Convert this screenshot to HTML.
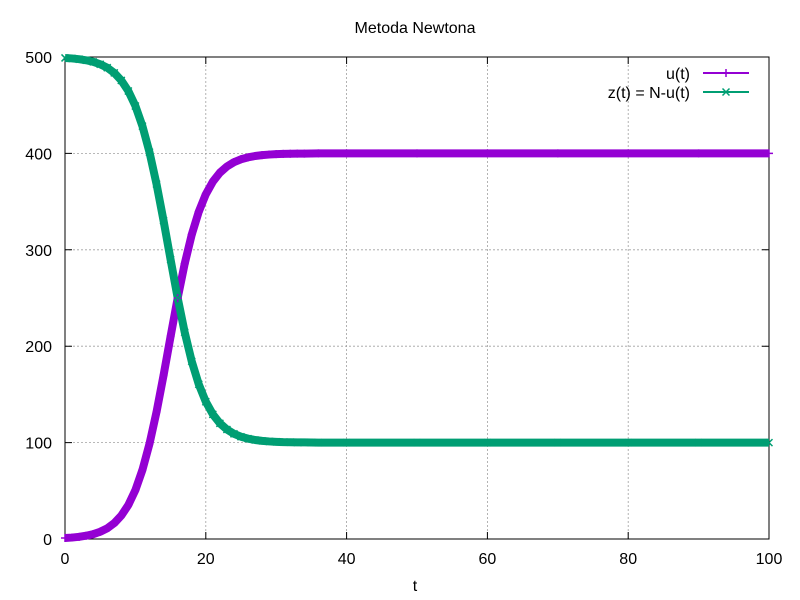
<!DOCTYPE html>
<html><head><meta charset="utf-8"><style>
html,body{margin:0;padding:0;background:#fff;}
svg{display:block;font-family:"Liberation Sans",sans-serif;}
</style></head><body>
<svg id="chart" width="800" height="600" xmlns="http://www.w3.org/2000/svg">
<rect width="800" height="600" fill="#fff"/>
<text x="415" y="33" font-size="16" text-anchor="middle">Metoda Newtona</text>
<text x="415" y="591" font-size="16" text-anchor="middle">t</text>
<g id="grid"></g>
<g id="axes"></g>
<g id="series"></g>
<g id="legend"></g>
</svg>
<script>
const tValues=[0,1,2,3,4,5,6,7,8,9,10,11,12,13,14,15,16,17,18,19,20,21,22,23,24,25,26,27,28,29,30,31,32,33,34,35,36,40,50,60,70,80,90,100];
const uValues=[1.0,1.5,2.25,3.4,5.0,7.5,11.1,16.5,24.3,35.3,50.8,71.7,98.7,131.8,169.8,210.2,249.7,285.5,315.7,339.5,357.6,370.7,380,386.4,390.9,393.9,395.9,397.3,398.2,398.8,399.2,399.5,399.6,399.8,399.8,399.9,400,400,400,400,400,400,400,400];
const N=500;
const xTicks=[0,20,40,60,80,100];
const yTicks=[0,100,200,300,400,500];
const X0=65,X1=769,Y0=539,Y1=57;
const xs=t=>X0+(t-0)/(100-0)*(X1-X0);
const ys=v=>Y0-(v-0)/(500-0)*(Y0-Y1);
const NS="http://www.w3.org/2000/svg";
function mk(tag,attrs,parent){const e=document.createElementNS(NS,tag);for(const k in attrs)e.setAttribute(k,attrs[k]);parent.appendChild(e);return e;}
const grid=document.getElementById('grid'),axes=document.getElementById('axes'),series=document.getElementById('series'),legend=document.getElementById('legend');
xTicks.forEach(t=>{
  const x=xs(t);
  if(t>0&&t<100){const g=mk('line',{x1:x,x2:x,y1:Y1,y2:Y0,stroke:'#a0a0a0','stroke-width':0.8,'stroke-dasharray':'2,2'},grid);
  
  }
  const tk=mk('path',{d:`M${x},${Y0}v-7M${x},${Y1}v7`,stroke:'#000','stroke-width':1},axes);
  
  
  const lb=mk('text',{x:x,y:564,'font-size':16,'text-anchor':'middle'},axes);lb.textContent=t;
  
  
});
yTicks.forEach(v=>{
  const y=ys(v);
  if(v>0&&v<500){const g=mk('line',{x1:X0,x2:X1,y1:y,y2:y,stroke:'#a0a0a0','stroke-width':0.8,'stroke-dasharray':'2,2'},grid);
  
  }
  const tk=mk('path',{d:`M${X0},${y}h7M${X1},${y}h-7`,stroke:'#000','stroke-width':1},axes);
  
  
  const lb=mk('text',{x:52,y:y+6,'font-size':16,'text-anchor':'end'},axes);lb.textContent=v;
  
  
});
const frame=mk('rect',{x:X0,y:Y1,width:X1-X0,height:Y0-Y1,fill:'none',stroke:'#000','stroke-width':1},axes);


function plus(x,y,c,p){return mk('path',{d:`M${x-4},${y}h8M${x},${y-4}v8`,stroke:c,'stroke-width':1.5},p);}
function cross(x,y,c,p){return mk('path',{d:`M${x-3.5},${y-3.5}l7,7M${x-3.5},${y+3.5}l7,-7`,stroke:c,'stroke-width':1.5},p);}
const cu='#9400d3',cz='#009e73';
const uPts=tValues.map((t,i)=>xs(t)+','+ys(uValues[i])).join(' ');
const zPts=tValues.map((t,i)=>xs(t)+','+ys(N-uValues[i])).join(' ');
const lu=mk('polyline',{points:uPts,fill:'none',stroke:cu,'stroke-width':8,'stroke-linejoin':'round'},series);


const lz=mk('polyline',{points:zPts,fill:'none',stroke:cz,'stroke-width':8,'stroke-linejoin':'round'},series);


tValues.forEach((t,i)=>{
  const a=plus(xs(t),ys(uValues[i]),cu,series);
  
  
  const b=cross(xs(t),ys(N-uValues[i]),cz,series);
  
  
});
const l1=mk('text',{x:690,y:79,'font-size':16,'text-anchor':'end'},legend);l1.textContent='u(t)';


const s1=mk('line',{x1:703,x2:749,y1:73,y2:73,stroke:cu,'stroke-width':2},legend);


plus(726,73,cu,legend);
const l2=mk('text',{x:690,y:98,'font-size':16,'text-anchor':'end'},legend);l2.textContent='z(t) = N-u(t)';


const s2=mk('line',{x1:703,x2:749,y1:92,y2:92,stroke:cz,'stroke-width':2},legend);


cross(726,92,cz,legend);
</script>
</body></html>
